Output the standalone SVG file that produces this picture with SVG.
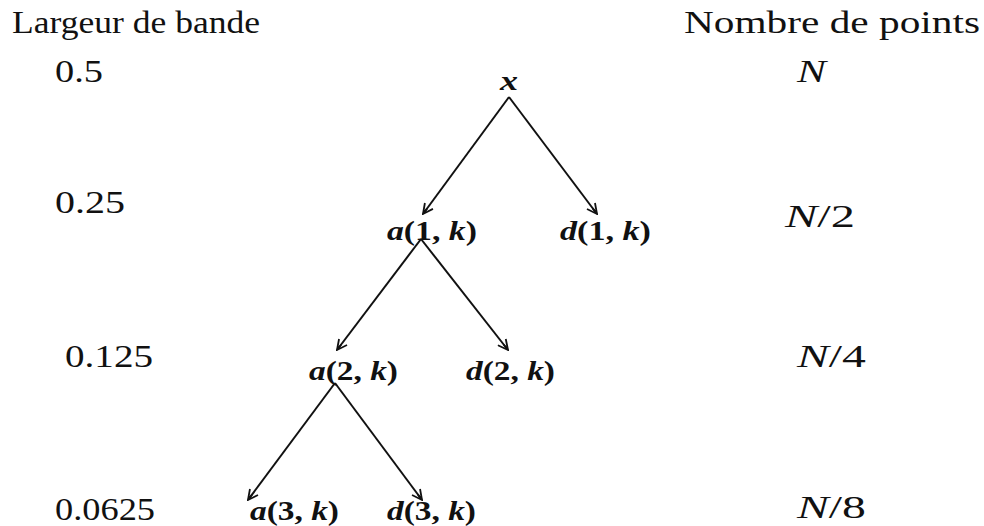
<svg xmlns="http://www.w3.org/2000/svg" width="984" height="526" viewBox="0 0 984 526">
<style>
text{font-family:"Liberation Serif","DejaVu Serif",serif;fill:#111}
.h{font-size:31px}
.n{font-size:31px}
.m{font-size:28px;font-weight:bold}
.i{font-style:italic}
.e{stroke:#111;stroke-width:2;fill:none}
</style>
<defs>
<marker id="ah" viewBox="0 0 12 12" refX="11" refY="6" markerWidth="12" markerHeight="12" markerUnits="userSpaceOnUse" orient="auto">
<path d="M1,1 L11,6 L1,11 M4,6 L11,6" fill="none" stroke="#111" stroke-width="1.8"/>
</marker>
</defs>
<g id="labels">
<text class="h" x="12" y="33" textLength="248" lengthAdjust="spacingAndGlyphs">Largeur de bande</text>
<text class="h" x="684" y="33" textLength="296" lengthAdjust="spacingAndGlyphs">Nombre de points</text>
<text class="n" x="55" y="82" textLength="48" lengthAdjust="spacingAndGlyphs">0.5</text>
<text class="n" x="55" y="213" textLength="70" lengthAdjust="spacingAndGlyphs">0.25</text>
<text class="n" x="65" y="367" textLength="88" lengthAdjust="spacingAndGlyphs">0.125</text>
<text class="n" x="55" y="520" textLength="100" lengthAdjust="spacingAndGlyphs">0.0625</text>
<text class="n i" x="797" y="82" textLength="29" lengthAdjust="spacingAndGlyphs">N</text>
<text class="n" x="785" y="227" textLength="70" lengthAdjust="spacingAndGlyphs"><tspan class="i">N</tspan>/2</text>
<text class="n" x="797" y="367" textLength="69" lengthAdjust="spacingAndGlyphs"><tspan class="i">N</tspan>/4</text>
<text class="n" x="797" y="518" textLength="69" lengthAdjust="spacingAndGlyphs"><tspan class="i">N</tspan>/8</text>
</g>
<g id="node-x"><text class="m i" x="500" y="90" textLength="18" lengthAdjust="spacingAndGlyphs">x</text></g>
<g id="node-a1"><text class="m" x="387" y="240" textLength="90" lengthAdjust="spacingAndGlyphs"><tspan class="i">a</tspan>(1, <tspan class="i">k</tspan>)</text></g>
<g id="node-d1"><text class="m" x="560" y="240" textLength="91" lengthAdjust="spacingAndGlyphs"><tspan class="i">d</tspan>(1, <tspan class="i">k</tspan>)</text></g>
<g id="node-a2"><text class="m" x="309" y="380" textLength="89" lengthAdjust="spacingAndGlyphs"><tspan class="i">a</tspan>(2, <tspan class="i">k</tspan>)</text></g>
<g id="node-d2"><text class="m" x="466" y="380" textLength="89" lengthAdjust="spacingAndGlyphs"><tspan class="i">d</tspan>(2, <tspan class="i">k</tspan>)</text></g>
<g id="node-a3"><text class="m" x="250" y="520" textLength="89" lengthAdjust="spacingAndGlyphs"><tspan class="i">a</tspan>(3, <tspan class="i">k</tspan>)</text></g>
<g id="node-d3"><text class="m" x="387" y="520" textLength="89" lengthAdjust="spacingAndGlyphs"><tspan class="i">d</tspan>(3, <tspan class="i">k</tspan>)</text></g>
<g id="connectors">
<line class="e" x1="509" y1="97" x2="423" y2="214" marker-end="url(#ah)"/>
<line class="e" x1="509" y1="97" x2="597" y2="214" marker-end="url(#ah)"/>
<line class="e" x1="421" y1="239" x2="337" y2="350" marker-end="url(#ah)"/>
<line class="e" x1="421" y1="239" x2="508" y2="350" marker-end="url(#ah)"/>
<line class="e" x1="335" y1="383" x2="248" y2="500" marker-end="url(#ah)"/>
<line class="e" x1="335" y1="383" x2="422" y2="500" marker-end="url(#ah)"/>
</g>
</svg>
